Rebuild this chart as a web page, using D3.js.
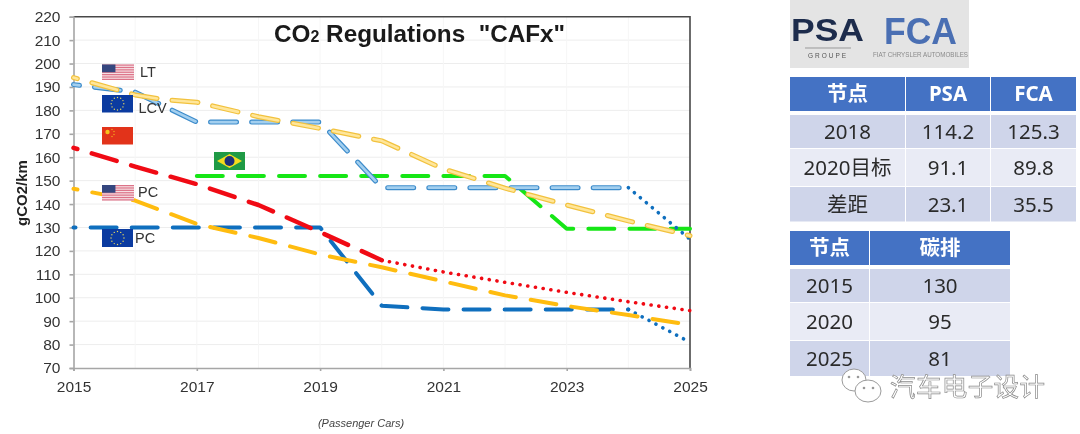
<!DOCTYPE html>
<html>
<head>
<meta charset="utf-8">
<script src="https://cdn.jsdelivr.net/npm/d3@7"></script>
<style>
  body { margin: 0; background: #fff; }
  svg { display: block; filter: blur(0.4px); }
  text { font-family: "Liberation Sans", Arial, "Noto Sans CJK SC", sans-serif; }
  .tbl text { font-family: "Noto Sans", "Noto Sans CJK SC", sans-serif; }
</style>
</head>
<body>
<div id="canvas"></div>
<script>
const years = [2015, 2016, 2017, 2018, 2019, 2020, 2021, 2022, 2023, 2024, 2025];
const ltYears = [2015, 2016, 2016.5, 2017, 2018, 2019, 2020, 2021, 2022, 2023, 2024, 2025];
const brYears = [2017, 2018, 2019, 2020, 2021, 2022, 2023, 2024, 2025];

const ltValues = [194, 186.6, 184.5, 183.5, 177.3, 172.3, 167, 155, 146.8, 139.6, 132.8, 126.5];
const lcvValues = [191, 187.8, 175, 175, 175, 147, 147, 147, 147, 147, 125];
const cnValues = [164, 156, 148.5, 139.6, 128, 116, 111, 106.6, 102.3, 98.3, 94.5];
const usPcValues = [146.5, 141.5, 131.5, 125.5, 118.5, 113, 107, 101, 96.5, 92.6, 88.4];
const euPcValues = [130, 130, 130, 130, 130, 96.6, 95, 95, 95, 95, 81];
const brValues = [152, 152, 152, 152, 152, 152, 129.5, 129.5, 129.5];

const yTicks = d3.range(70, 221, 10);
const xLabelYears = [2015, 2017, 2019, 2021, 2023, 2025];

const table1Head = ["节点", "PSA", "FCA"];
const table1Rows = [["2018", "114.2", "125.3"], ["2020目标", "91.1", "89.8"], ["差距", "23.1", "35.5"]];
const table2Head = ["节点", "碳排"];
const table2Rows = [["2015", "130"], ["2020", "95"], ["2025", "81"]];

const svg = d3.select("#canvas").append("svg").attr("width", 1080).attr("height", 434);

const plot = {left: 73.5, right: 690, top: 16.7, bottom: 368};
const x = d3.scaleLinear().domain([2015, 2025]).range([plot.left, plot.right]);
const y = d3.scaleLinear().domain([70, 220]).range([plot.bottom, plot.top]);

// grid
const grid = svg.append("g");
grid.selectAll("line.h").data(yTicks.slice(1, -1)).enter().append("line")
  .attr("class", "h")
  .attr("x1", plot.left).attr("x2", plot.right).attr("y1", d => y(d)).attr("y2", d => y(d))
  .attr("stroke", "#ededed").attr("stroke-width", 1);
grid.selectAll("line.v").data(years.slice(1, -1)).enter().append("line")
  .attr("class", "v")
  .attr("y1", plot.top).attr("y2", plot.bottom).attr("x1", d => x(d)).attr("x2", d => x(d))
  .attr("stroke", "#f6f6f6").attr("stroke-width", 1);

// frame, top and right are darker
svg.append("path").attr("d", `M${plot.left},${plot.top}H${plot.right}V${plot.bottom}`).attr("fill", "none").attr("stroke", "#484848").attr("stroke-width", 1.6);

const yAxis = svg.append("g").attr("transform", `translate(${plot.left},0)`)
  .call(d3.axisLeft(y).tickValues(yTicks).tickSize(4).tickPadding(9));
const xAxis = svg.append("g").attr("transform", `translate(0,${plot.bottom})`)
  .call(d3.axisBottom(x).tickValues(xLabelYears).tickFormat(d3.format("d")).tickSize(3).tickPadding(10));
[yAxis, xAxis].forEach(a => {
  a.selectAll("path,line").attr("stroke", "#a6a6a6").attr("stroke-width", 1.6);
  a.selectAll("text").attr("fill", "#333").style("font-size", "15.5px");
});

svg.append("text").attr("transform", "translate(27,193) rotate(-90)").attr("text-anchor", "middle")
  .attr("font-size", 15).attr("font-weight", "bold").attr("fill", "#222").text("gCO2/km");

const title = svg.append("text").attr("x", 274).attr("y", 41.5).attr("font-weight", "bold").attr("font-size", 24.3).attr("fill", "#1a1a1a");
title.append("tspan").text("CO");
title.append("tspan").attr("font-size", 16).text("2");
title.append("tspan").style("white-space", "pre").text(" Regulations  \"CAFx\"");

svg.append("text").attr("x", 361).attr("y", 427).attr("text-anchor", "middle").attr("font-size", 11)
  .attr("font-style", "italic").attr("fill", "#444").text("(Passenger Cars)");

// series
const line = d3.line().x(d => x(d[0])).y(d => y(d[1]));
const DASH = "26,15.1", DOT = "0.1,7.7";

function drawPart(pts, color, width, dash, offset) {
  svg.append("path").attr("d", line(pts)).attr("fill", "none").attr("stroke", color).attr("stroke-width", width)
    .attr("stroke-linecap", "round").attr("stroke-linejoin", "round")
    .attr("stroke-dasharray", dash).attr("stroke-dashoffset", offset);
}

function drawSeries(xs, ys, o) {
  const pts = xs.map((d, i) => [d, ys[i]]);
  const end = o.dashEnd || 2025;
  const dashed = pts.filter(d => d[0] <= end);
  const dotted = pts.filter(d => d[0] >= end);
  if (o.inner) {
    drawPart(dashed, o.color, 5, DASH, o.offset);
    drawPart(dashed, o.inner, 2.6, DASH, o.offset);
  } else {
    drawPart(dashed, o.color, o.width, DASH, o.offset);
  }
  if (dotted.length > 1) drawPart(dotted, o.dotColor || o.color, 3.6, DOT, 0);
}

drawSeries(brYears, brValues, {color: "#16e616", width: 4, offset: 0});
drawSeries(years, euPcValues, {color: "#0f6fbe", width: 4, offset: 24, dashEnd: 2024});
drawSeries(years, usPcValues, {color: "#ffbc0f", width: 4, offset: 22});
drawSeries(years, cnValues, {color: "#f00a14", width: 4.5, offset: 22, dashEnd: 2020});
drawSeries(years, lcvValues, {color: "#3d8ccb", inner: "#a3cfef", offset: 20, dashEnd: 2024, dotColor: "#0f6fbe"});
drawSeries(ltYears, ltValues, {color: "#f2c23e", inner: "#ffe69a", offset: 22});

// flags
function usFlag(fx, fy, w, h) {
  const g = svg.append("g").attr("transform", `translate(${fx},${fy})`);
  g.append("rect").attr("width", w).attr("height", h).attr("fill", "#f6dfe3");
  d3.range(7).forEach(i => g.append("rect").attr("y", i * h / 6.5).attr("width", w).attr("height", h / 13).attr("fill", "#dc7388"));
  g.append("rect").attr("width", w * 0.42).attr("height", h * 0.5).attr("fill", "#35477f");
}
function euFlag(fx, fy, w, h) {
  const g = svg.append("g").attr("transform", `translate(${fx},${fy})`);
  g.append("rect").attr("width", w).attr("height", h).attr("fill", "#0b3ba0");
  d3.range(12).forEach(i => g.append("circle")
    .attr("cx", w / 2 + Math.cos(i * Math.PI / 6) * h * 0.36)
    .attr("cy", h / 2 + Math.sin(i * Math.PI / 6) * h * 0.36)
    .attr("r", 0.7).attr("fill", "#e8d860"));
}
function cnFlag(fx, fy, w, h) {
  const g = svg.append("g").attr("transform", `translate(${fx},${fy})`);
  g.append("rect").attr("width", w).attr("height", h).attr("fill", "#e2331a");
  g.append("circle").attr("cx", 5.5).attr("cy", 5).attr("r", 2.2).attr("fill", "#f7c21c");
  [[10, 2.5], [12, 4.5], [12, 7.5], [10, 9.5]].forEach(p => g.append("circle").attr("cx", p[0]).attr("cy", p[1]).attr("r", 0.7).attr("fill", "#f3b01f"));
}
function brFlag(fx, fy, w, h) {
  const g = svg.append("g").attr("transform", `translate(${fx},${fy})`);
  g.append("rect").attr("width", w).attr("height", h).attr("fill", "#1f9a45");
  g.append("path").attr("d", `M3,${h / 2}L${w / 2},2L${w - 3},${h / 2}L${w / 2},${h - 2}Z`).attr("fill", "#f4dc1e");
  g.append("circle").attr("cx", w / 2).attr("cy", h / 2).attr("r", 5).attr("fill", "#1c2f7a");
}
usFlag(102, 64.5, 32, 15.5);
euFlag(102, 95, 31, 17.5);
cnFlag(102, 127, 31, 17.5);
brFlag(214, 152, 31, 18);
usFlag(102, 185, 32, 15.5);
euFlag(102, 229, 31, 18);

[["LT", 140, 77], ["LCV", 138.5, 113], ["PC", 138, 197], ["PC", 135, 243]].forEach(d => {
  svg.append("text").attr("x", d[1]).attr("y", d[2]).attr("font-size", 14.5).attr("fill", "#333").text(d[0]);
});

// logos
svg.append("rect").attr("x", 790).attr("width", 179).attr("height", 68).attr("fill", "#e4e4e4");
svg.append("text").attr("x", 791).attr("y", 41).attr("font-size", 32).attr("font-weight", "bold")
  .attr("textLength", 73).attr("lengthAdjust", "spacingAndGlyphs").attr("fill", "#1d2c4c").text("PSA");
svg.append("line").attr("x1", 805).attr("x2", 851).attr("y1", 48).attr("y2", 48).attr("stroke", "#999");
svg.append("text").attr("x", 828).attr("y", 58).attr("text-anchor", "middle").attr("font-size", 6.5).attr("letter-spacing", 2)
  .attr("fill", "#555").text("GROUPE");
svg.append("text").attr("x", 884).attr("y", 44).attr("font-size", 36).attr("font-weight", "bold")
  .attr("textLength", 73).attr("lengthAdjust", "spacingAndGlyphs").attr("fill", "#4a6fb3").text("FCA");
svg.append("text").attr("x", 873).attr("y", 57).attr("font-size", 6.5).attr("textLength", 95)
  .attr("lengthAdjust", "spacingAndGlyphs").attr("fill", "#8a8a8a").text("FIAT CHRYSLER AUTOMOBILES");

// tables
function drawTable(head, rows, colEdges, rowEdges) {
  const g = svg.append("g").attr("class", "tbl");
  [head].concat(rows).forEach((row, r) => {
    row.forEach((cell, c) => {
      const x0 = colEdges[c][0], x1 = colEdges[c][1], y0 = rowEdges[r][0], y1 = rowEdges[r][1];
      g.append("rect").attr("x", x0).attr("y", y0).attr("width", x1 - x0).attr("height", y1 - y0)
        .attr("fill", r === 0 ? "#4472c4" : (r % 2 ? "#cfd5ea" : "#e9ebf5"));
      g.append("text").attr("x", (x0 + x1) / 2).attr("y", (y0 + y1) / 2).attr("dy", "0.36em")
        .attr("text-anchor", "middle").attr("font-size", 20.5)
        .attr("font-weight", r === 0 ? "bold" : "normal")
        .attr("fill", r === 0 ? "#fff" : "#2b2b2b").text(cell);
    });
  });
}
drawTable(table1Head, table1Rows, [[790, 905], [906, 990], [991, 1076]], [[77, 111], [115, 148], [149, 186], [187, 221.5]]);
drawTable(table2Head, table2Rows, [[790, 869], [870, 1010]], [[231, 265], [269, 302], [303, 340], [341, 376]]);

// watermark
const wm = svg.append("g").attr("fill", "#fff").attr("stroke", "#9a9a9a").attr("stroke-width", 1);
wm.append("ellipse").attr("cx", 854).attr("cy", 380).attr("rx", 12).attr("ry", 11);
wm.append("ellipse").attr("cx", 868).attr("cy", 391).attr("rx", 13).attr("ry", 11);
[[849, 377], [858, 377], [864, 388], [873, 388]].forEach(p => svg.append("circle").attr("cx", p[0]).attr("cy", p[1]).attr("r", 1.3).attr("fill", "#999"));
svg.append("text").attr("x", 890).attr("y", 396).attr("font-size", 25.5).attr("textLength", 155)
  .attr("fill", "#fff").attr("stroke", "#8a8a8a").attr("stroke-width", 0.7)
  .text("汽车电子设计");
</script>
</body>
</html>
